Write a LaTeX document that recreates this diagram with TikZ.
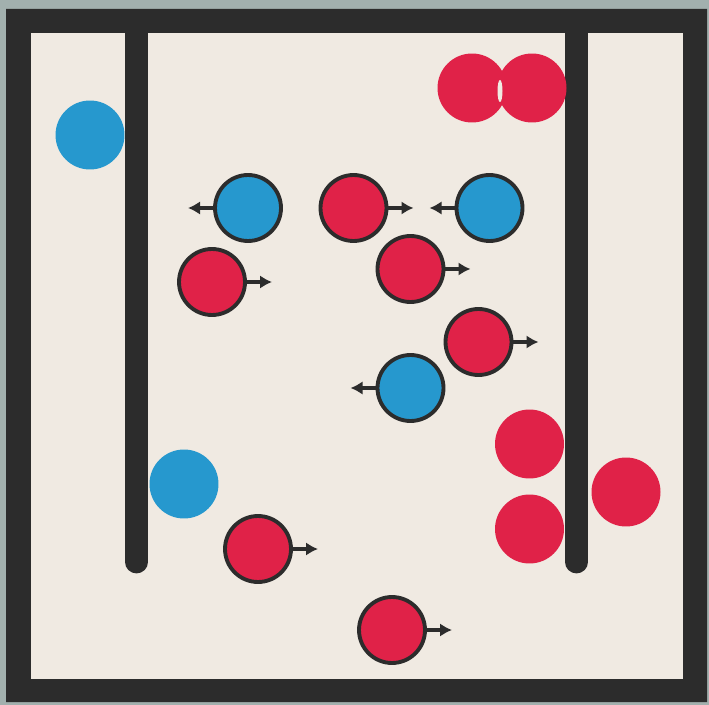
\documentclass[tikz,border=0pt]{standalone}
\usetikzlibrary{arrows.meta,calc}
\definecolor{paper}{RGB}{240,234,226}
\definecolor{boxdark}{RGB}{44,44,44}
\definecolor{rim}{RGB}{162,176,174}
\definecolor{molred}{RGB}{224,34,72}
\definecolor{molblue}{RGB}{38,152,206}
\tikzset{
  mol/.style={circle,inner sep=0pt,minimum size=1.32cm,draw=boxdark,line width=2.2pt},
  still/.style={circle,inner sep=0pt,minimum size=1.38cm},
  vel/.style={->,draw=boxdark,line width=2.2pt},
}
\begin{document}
\begin{tikzpicture}[x=0.02cm,y=-0.02cm,>={Latex[length=0.24cm,width=0.27cm]}]
% moving molecule: #1 = name, #2 = colour, #3 = centre, #4 = +1 right / -1 left
\newcommand{\mover}[4]{%
  \coordinate (#1v) at ($#3+(#4*60,0)$);
  \draw[vel] #3 -- (#1v);
  \node[mol,fill=#2] (#1) at #3 {};
}
% page, frame and the two walls
\fill[rim] (0,0) rectangle (709,705);
\fill[boxdark,even odd rule] (6,9) rectangle (707,702) (31,33) rectangle (683,679);
\fill[paper] (31,33) rectangle (683,679);
\draw[boxdark,line width=13pt,line cap=round] (136.5,30) -- (136.5,562);
\draw[boxdark,line width=13pt,line cap=round] (576.5,30) -- (576.5,562);
% molecules at rest
\node[still,fill=molblue] (b1) at (90,135) {};
\node[still,fill=molblue] (b2) at (184,484) {};
\node[still,fill=molred] (r1) at (472,88) {};
\node[still,fill=molred] (r2) at (532,88) {};
\fill[paper] (500,91) ellipse (2.5 and 11);
\node[still,fill=molred] (r3) at (529.5,444) {};
\node[still,fill=molred] (r4) at (529.5,529) {};
\node[still,fill=molred] (r5) at (626,492) {};
% molecules in motion
\mover{mb1}{molblue}{(248,208)}{-1}
\mover{mr1}{molred}{(353.5,208)}{1}
\mover{mb2}{molblue}{(489.5,208)}{-1}
\mover{mr2}{molred}{(212,282)}{1}
\mover{mr3}{molred}{(410.5,269)}{1}
\mover{mr4}{molred}{(478.5,342)}{1}
\mover{mb3}{molblue}{(410.5,388)}{-1}
\mover{mr5}{molred}{(258,549)}{1}
\mover{mr6}{molred}{(392,630)}{1}
\end{tikzpicture}
\end{document}
